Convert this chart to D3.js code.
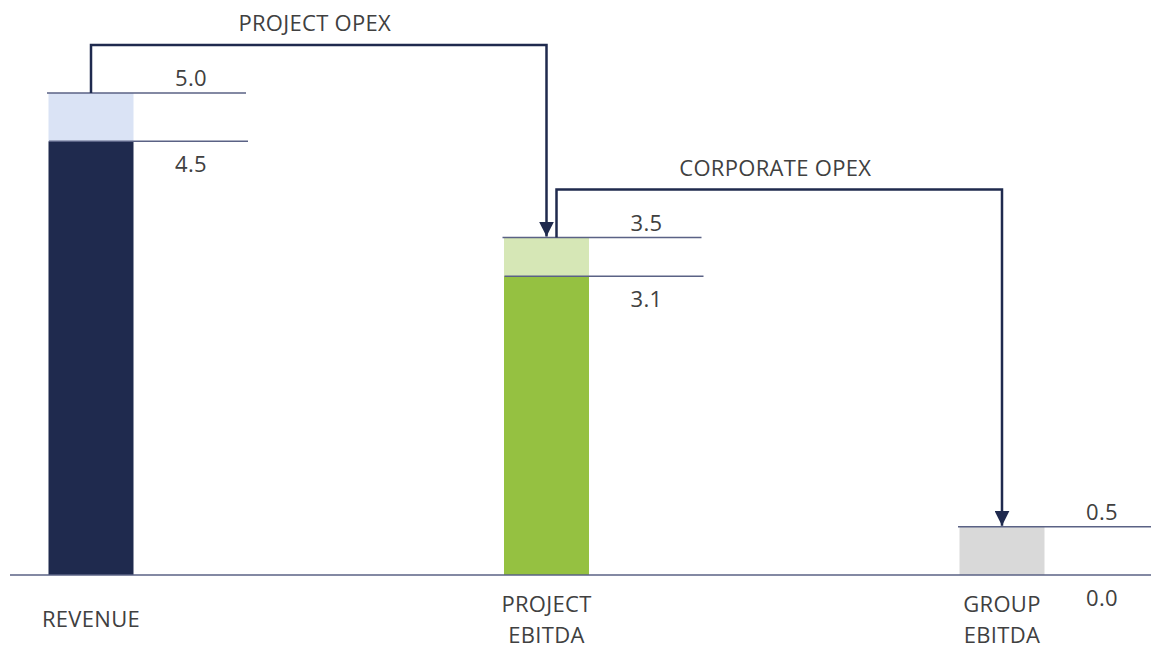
<!DOCTYPE html>
<html>
<head>
<meta charset="utf-8">
<script src="https://d3js.org/d3.v7.min.js"></script>
<style>
  body { margin: 0; background: #fff; }
  text { font-family: "Open Sans", sans-serif; fill: #404040; font-size: 22px; letter-spacing: 0.3px; }
</style>
</head>
<body>
<div id="chart"></div>
<script>
// data
const categories = ["REVENUE", "PROJECT EBITDA", "GROUP EBITDA"];
const totals = [5.0, 3.5, 0.5];     // top of each bar
const bases = [4.5, 3.1, 0.0];      // top of the solid part
const flowLabels = ["PROJECT OPEX", "CORPORATE OPEX"];
const solidColors = ["#1f2a4e", "#95c141", "#d9d9d9"];
const lightColors = ["#dae3f5", "#d6e7b6", "#d9d9d9"];

const width = 1151, height = 648;
const barW = 85;
const ink = "#1f2a4e";
const rule = "#5a6285";

const svg = d3.select("#chart").append("svg")
  .attr("width", width)
  .attr("height", height);

const x = d3.scalePoint()
  .domain(categories)
  .range([91, 1002]);

const y = d3.scaleLinear()
  .domain([0, 5])
  .range([575, 93]);

// arrow marker
svg.append("defs").append("marker")
  .attr("id", "arrow")
  .attr("viewBox", "0 0 10 10")
  .attr("refX", 10).attr("refY", 5)
  .attr("markerWidth", 6).attr("markerHeight", 6)
  .attr("markerUnits", "strokeWidth")
  .attr("orient", "auto")
  .append("path")
    .attr("d", "M0,0 L10,5 L0,10 Z")
    .attr("fill", ink);

const data = categories.map((c, i) => ({ cat: c, total: totals[i], base: bases[i], i: i }));

// solid part
svg.append("g").selectAll("rect")
  .data(data.filter(d => d.base > 0))
  .join("rect")
    .attr("x", d => x(d.cat) - barW / 2)
    .attr("y", d => y(d.base))
    .attr("width", barW)
    .attr("height", d => y(0) - y(d.base))
    .attr("fill", d => solidColors[d.i]);

// light part (the difference)
svg.append("g").selectAll("rect")
  .data(data)
  .join("rect")
    .attr("x", d => x(d.cat) - barW / 2)
    .attr("y", d => y(d.total))
    .attr("width", barW)
    .attr("height", d => y(d.base) - y(d.total))
    .attr("fill", d => lightColors[d.i]);

// baseline
svg.append("line")
  .attr("x1", 10).attr("x2", width)
  .attr("y1", y(0)).attr("y2", y(0))
  .attr("stroke", rule).attr("stroke-width", 1.5);

// value lines and labels
const vals = svg.append("g");
data.forEach(d => {
  vals.append("line")
    .attr("x1", x(d.cat) - 44).attr("x2", x(d.cat) + 155)
    .attr("y1", y(d.total)).attr("y2", y(d.total))
    .attr("stroke", rule).attr("stroke-width", 1.5);
  vals.append("text")
    .attr("x", x(d.cat) + 100).attr("y", y(d.total) - 7)
    .attr("text-anchor", "middle")
    .text(d3.format(".1f")(d.total));
  if (d.base > 0) {
    vals.append("line")
      .attr("x1", x(d.cat) - 42).attr("x2", x(d.cat) + 157)
      .attr("y1", y(d.base)).attr("y2", y(d.base))
      .attr("stroke", rule).attr("stroke-width", 1.5);
  }
  vals.append("text")
    .attr("x", x(d.cat) + 100).attr("y", y(d.base) + 31)
    .attr("text-anchor", "middle")
    .text(d3.format(".1f")(d.base));
});

// flow connectors
const rise = 48;
flowLabels.forEach((lbl, i) => {
  const from = data[i], to = data[i + 1];
  const x0 = x(from.cat) + (i > 0 ? 10 : 0);
  const x1 = x(to.cat);
  const yTop = y(from.total) - rise;
  svg.append("path")
    .attr("d", `M${x0},${y(from.total)} V${yTop} H${x1} V${y(to.total) - 1}`)
    .attr("fill", "none")
    .attr("stroke", ink)
    .attr("stroke-width", 2.5)
    .attr("marker-end", "url(#arrow)");
  svg.append("text")
    .attr("x", (x0 + x1) / 2 - 4)
    .attr("y", yTop - 14)
    .attr("text-anchor", "middle")
    .text(lbl);
});

// category labels (wrap two-word names)
svg.append("g").selectAll("text")
  .data(categories)
  .join("text")
    .attr("text-anchor", "middle")
    .each(function(c) {
      const words = c.split(" ");
      const t = d3.select(this);
      const startY = words.length > 1 ? 612 : 627;
      words.forEach((w, k) => {
        t.append("tspan")
          .attr("x", x(c))
          .attr("y", startY + k * 31)
          .text(w);
      });
    });
</script>
</body>
</html>
